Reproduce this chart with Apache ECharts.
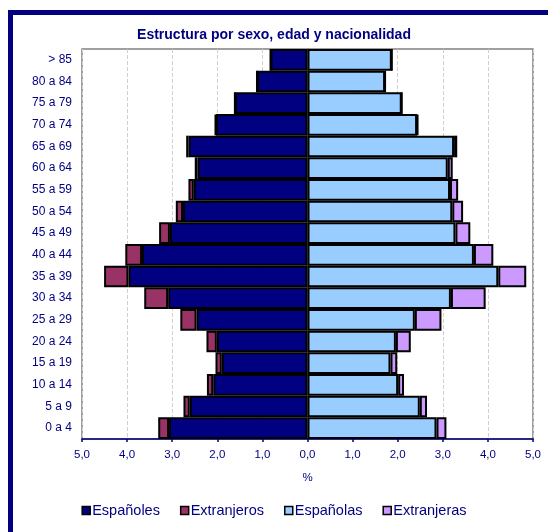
<!doctype html>
<html lang="es">
<head>
    <meta charset="UTF-8">
    <script src="https://cdn.jsdelivr.net/npm/echarts@6/dist/echarts.min.js"></script>
    <title>Estructura por sexo, edad y nacionalidad</title>
    <style>
        html, body { margin: 0; padding: 0; background: #fff; }
    </style>
</head>
<body>
<div id="main" style="width: 548px;height:532px;"></div>
<script type="text/javascript">
    // grupos de edad (de abajo a arriba)
    var edades = ['0 a 4', '5 a 9', '10 a 14', '15 a 19', '20 a 24', '25 a 29', '30 a 34', '35 a 39', '40 a 44',
        '45 a 49', '50 a 54', '55 a 59', '60 a 64', '65 a 69', '70 a 74', '75 a 79', '80 a 84', '> 85'];

    // % sobre la población total
    var espanoles   = [3.07, 2.61, 2.09, 1.90, 2.01, 2.46, 3.09, 3.97, 3.67, 3.05, 2.76, 2.52, 2.44, 2.64, 2.03, 1.61, 1.12, 0.82];
    var extranjeros = [0.24, 0.14, 0.14, 0.14, 0.23, 0.36, 0.53, 0.54, 0.37, 0.24, 0.16, 0.12, 0.06, 0.05, 0.02, 0, 0, 0];
    var espanolas   = [2.86, 2.49, 2.01, 1.84, 1.96, 2.38, 3.18, 4.23, 3.69, 3.28, 3.21, 3.16, 3.11, 3.25, 2.43, 2.09, 1.72, 1.87];
    var extranjeras = [0.22, 0.16, 0.13, 0.15, 0.33, 0.59, 0.77, 0.62, 0.43, 0.33, 0.24, 0.18, 0.11, 0.07, 0.02, 0, 0, 0];

    var navy = '#000080';

    function negativo(arr) {
        return arr.map(function (v) { return -v; });
    }

    function serie(nombre, datos, color) {
        return {
            name: nombre,
            type: 'bar',
            stack: 'total',
            barCategoryGap: '0%',
            data: datos,
            itemStyle: { color: color, borderColor: '#000', borderWidth: 2 }
        };
    }

    var myChart = echarts.init(document.getElementById('main'));

    var option = {
        animation: false,
        backgroundColor: '#fff',
        textStyle: { fontFamily: 'Liberation Sans, Arial, sans-serif' },
        graphic: [{
            // marco azul del gráfico
            type: 'rect',
            shape: { x: 10.5, y: 12.5, width: 700, height: 700 },
            style: { fill: 'none', stroke: navy, lineWidth: 5 },
            silent: true
        }],
        title: {
            text: 'Estructura por sexo, edad y nacionalidad',
            left: 'center',
            top: 23,
            textStyle: { color: navy, fontSize: 14, fontWeight: 'bold' }
        },
        legend: {
            bottom: 9,
            left: 'center',
            icon: 'rect',
            itemWidth: 8,
            itemHeight: 8,
            itemGap: 20,
            itemStyle: { borderColor: '#000', borderWidth: 1.5 },
            textStyle: { color: navy, fontSize: 14.5, padding: [0, 0, 0, -3] },
            data: ['Españoles', 'Extranjeros', 'Españolas', 'Extranjeras']
        },
        grid: {
            left: 82,
            right: 15,
            top: 49,
            bottom: 93,
            show: true,
            borderColor: '#808080',
            borderWidth: 1.5
        },
        xAxis: {
            type: 'value',
            min: -5,
            max: 5,
            interval: 1,
            name: '%',
            nameLocation: 'middle',
            nameGap: 33,
            nameTextStyle: { color: navy, fontSize: 11.5 },
            axisLine: { show: true, lineStyle: { color: navy, width: 1.5 } },
            axisTick: { show: true, length: 3, lineStyle: { color: navy, width: 1.5 } },
            axisLabel: {
                color: navy,
                fontSize: 11.5,
                margin: 10,
                formatter: function (v) { return Math.abs(v).toFixed(1).replace('.', ','); }
            },
            splitLine: { show: true, lineStyle: { color: '#d0d0d0', type: 'dashed', width: 1 } }
        },
        yAxis: {
            type: 'category',
            data: edades,
            axisLine: { show: true, lineStyle: { color: '#808080', width: 1.5 } },
            axisTick: { show: false },
            axisLabel: { color: navy, fontSize: 12, margin: 10 },
            splitLine: { show: false }
        },
        series: [
            serie('Españoles', negativo(espanoles), navy),
            serie('Extranjeros', negativo(extranjeros), '#993366'),
            serie('Españolas', espanolas, '#99ccff'),
            serie('Extranjeras', extranjeras, '#cc99ff')
        ]
    };

    myChart.setOption(option);
</script>
</body>
</html>
